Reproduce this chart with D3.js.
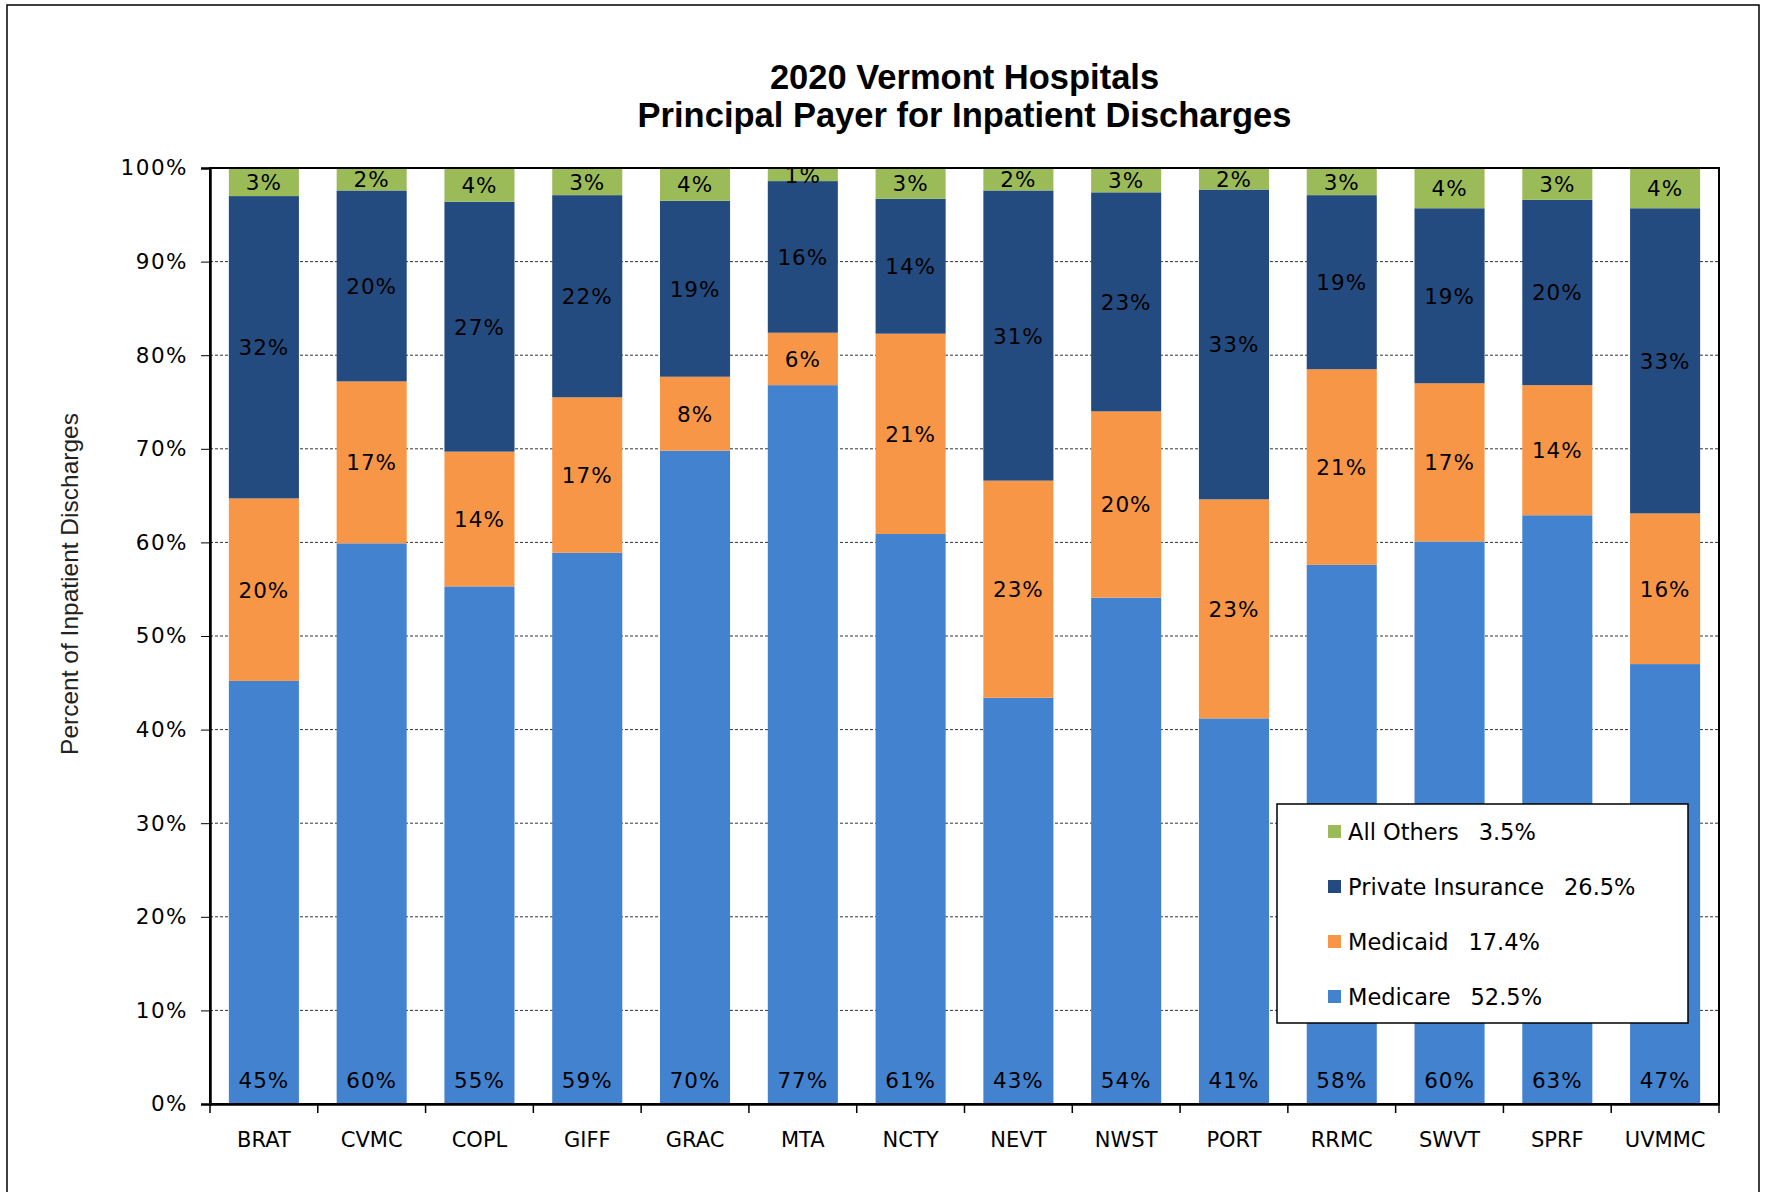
<!DOCTYPE html>
<html>
<head>
<meta charset="utf-8">
<script src="https://cdn.jsdelivr.net/npm/d3@7"></script>
<style>
  body { margin: 0; background: #fff; }
  svg { display: block; }
</style>
</head>
<body>
<div id="chart"></div>
<script>
// hospitals along the x axis
var categories = ["BRAT", "CVMC", "COPL", "GIFF", "GRAC", "MTA", "NCTY", "NEVT", "NWST", "PORT", "RRMC", "SWVT", "SPRF", "UVMMC"];

// percent of inpatient discharges by payer
var medicare   = [45.2, 59.9, 55.3, 58.9, 69.8, 76.8, 60.9, 43.4, 54.1, 41.2, 57.6, 60.1, 62.9, 47.0];
var medicaid   = [19.5, 17.3, 14.4, 16.6, 7.9, 5.6, 21.4, 23.2, 19.9, 23.4, 20.9, 16.9, 13.9, 16.1];
var privateIns = [32.3, 20.4, 26.7, 21.6, 18.8, 16.2, 14.4, 31.0, 23.4, 33.1, 18.6, 18.7, 19.8, 32.6];
var allOthers  = [3.0, 2.4, 3.6, 2.9, 3.5, 1.4, 3.3, 2.4, 2.6, 2.3, 2.9, 4.3, 3.4, 4.3];

var seriesKeys = ["Medicare", "Medicaid", "Private Insurance", "All Others"];
var seriesColors = ["#4382CF", "#F79646", "#234B7F", "#9BBB59"];
var legendTotals = ["52.5%", "17.4%", "26.5%", "3.5%"];
var yTicks = [0, 10, 20, 30, 40, 50, 60, 70, 80, 90, 100];

var W = 1766, H = 1192;
var plot = { left: 210, right: 1719, top: 168, bottom: 1104 };

// table for d3.stack
var table = categories.map(function (c, i) {
    return { cat: c, "Medicare": medicare[i], "Medicaid": medicaid[i],
             "Private Insurance": privateIns[i], "All Others": allOthers[i] };
});

var svg = d3.select("#chart").append("svg")
    .attr("width", W)
    .attr("height", H);

svg.append("rect").attr("width", W).attr("height", H).attr("fill", "#fff");
// outer chart border
svg.append("rect")
    .attr("x", 7).attr("y", 5)
    .attr("width", 1752).attr("height", 1210)
    .attr("fill", "none").attr("stroke", "#000").attr("stroke-width", 1.5);

var x = d3.scaleBand()
    .domain(categories)
    .range([plot.left, plot.right])
    .paddingInner(0.35)
    .paddingOuter(0.175);

var y = d3.scaleLinear()
    .domain([0, 100])
    .range([plot.bottom, plot.top]);

var color = d3.scaleOrdinal().domain(seriesKeys).range(seriesColors);

// title
var title = svg.append("text")
    .attr("text-anchor", "middle")
    .attr("font-family", "Liberation Sans, Arial, sans-serif")
    .attr("font-weight", "bold")
    .attr("font-size", 34.5)
    .attr("fill", "#000");
title.append("tspan").attr("x", (plot.left + plot.right) / 2).attr("y", 89).text("2020 Vermont Hospitals");
title.append("tspan").attr("x", (plot.left + plot.right) / 2).attr("y", 127).text("Principal Payer for Inpatient Discharges");

// dotted gridlines (behind bars)
svg.append("g").selectAll("line")
    .data(yTicks.filter(function (d) { return d > 0 && d < 100; }))
    .enter().append("line")
    .attr("x1", plot.left).attr("x2", plot.right)
    .attr("y1", function (d) { return y(d); })
    .attr("y2", function (d) { return y(d); })
    .attr("stroke", "#333")
    .attr("stroke-width", 1)
    .attr("stroke-dasharray", "3,2");

// stacked bars
var stacked = d3.stack().keys(seriesKeys)(table);

var layers = svg.append("g").selectAll("g")
    .data(stacked)
    .enter().append("g")
    .attr("fill", function (d) { return color(d.key); });

layers.selectAll("rect")
    .data(function (d) { return d; })
    .enter().append("rect")
    .attr("x", function (d) { return x(d.data.cat); })
    .attr("width", x.bandwidth())
    .attr("y", function (d) { return y(d[1]); })
    .attr("height", function (d) { return y(d[0]) - y(d[1]); });

// data labels
var labelG = svg.append("g")
    .attr("font-family", "DejaVu Sans, sans-serif")
    .attr("font-size", 21.5)
    .attr("letter-spacing", 1)
    .attr("text-anchor", "middle")
    .attr("fill", "#000");

stacked.forEach(function (layer) {
    labelG.selectAll(null)
        .data(layer)
        .enter().append("text")
        .attr("x", function (d) { return x(d.data.cat) + x.bandwidth() / 2; })
        .attr("y", function (d) {
            if (layer.key === "Medicare") return y(d[0]) - 16;
            return (y(d[0]) + y(d[1])) / 2 + 8;
        })
        .text(function (d) { return Math.round(d[1] - d[0]) + "%"; });
});

// plot frame
svg.append("rect")
    .attr("x", plot.left).attr("y", plot.top)
    .attr("width", plot.right - plot.left).attr("height", plot.bottom - plot.top)
    .attr("fill", "none").attr("stroke", "#000").attr("stroke-width", 2);

// y axis
var yAxis = svg.append("g")
    .attr("transform", "translate(" + plot.left + ",0)")
    .call(d3.axisLeft(y).tickValues(yTicks).tickFormat(function (d) { return d + "%"; }).tickSize(9).tickPadding(13));
yAxis.select(".domain").attr("stroke", "#000").attr("stroke-width", 2.5);
yAxis.selectAll(".tick line").attr("stroke", "#000");
yAxis.selectAll(".tick text")
    .attr("font-family", "DejaVu Sans, sans-serif")
    .attr("font-size", 21.5)
    .attr("letter-spacing", 1.5)
    .attr("fill", "#000");

// x axis labels
var xAxis = svg.append("g")
    .attr("transform", "translate(0," + plot.bottom + ")")
    .call(d3.axisBottom(x).tickSize(0).tickPadding(28));
xAxis.select(".domain").attr("stroke", "#000").attr("stroke-width", 2.5);
xAxis.selectAll(".tick text")
    .attr("font-family", "DejaVu Sans, sans-serif")
    .attr("font-size", 21)
    .attr("fill", "#000");

// x ticks sit between the categories
svg.append("g").selectAll("line")
    .data(d3.range(categories.length + 1))
    .enter().append("line")
    .attr("x1", function (i) { return plot.left + i * x.step(); })
    .attr("x2", function (i) { return plot.left + i * x.step(); })
    .attr("y1", plot.bottom)
    .attr("y2", plot.bottom + 9)
    .attr("stroke", "#000")
    .attr("stroke-width", 1.5);

// y axis title
svg.append("text")
    .attr("transform", "translate(78," + 584 + ") rotate(-90)")
    .attr("text-anchor", "middle")
    .attr("font-family", "Liberation Sans, Arial, sans-serif")
    .attr("font-size", 24.5)
    .attr("fill", "#222")
    .text("Percent of Inpatient Discharges");

// legend
var legend = svg.append("g").attr("transform", "translate(1277,804)");
legend.append("rect")
    .attr("width", 411).attr("height", 219)
    .attr("fill", "#fff").attr("stroke", "#000").attr("stroke-width", 1.5);

var legendOrder = seriesKeys.slice().reverse();
var rows = legend.selectAll("g.row")
    .data(legendOrder)
    .enter().append("g")
    .attr("class", "row")
    .attr("transform", function (d, i) { return "translate(0," + (28 + i * 55) + ")"; });

rows.append("rect")
    .attr("x", 51).attr("y", -7)
    .attr("width", 13).attr("height", 13)
    .attr("fill", function (d) { return color(d); });

var lt = rows.append("text")
    .attr("x", 71).attr("y", 8)
    .attr("font-family", "DejaVu Sans, sans-serif")
    .attr("font-size", 22.5)
    .attr("fill", "#000");
lt.append("tspan").text(function (d) { return d; });
lt.append("tspan").attr("dx", 20).text(function (d) { return legendTotals[seriesKeys.indexOf(d)]; });
</script>
</body>
</html>
